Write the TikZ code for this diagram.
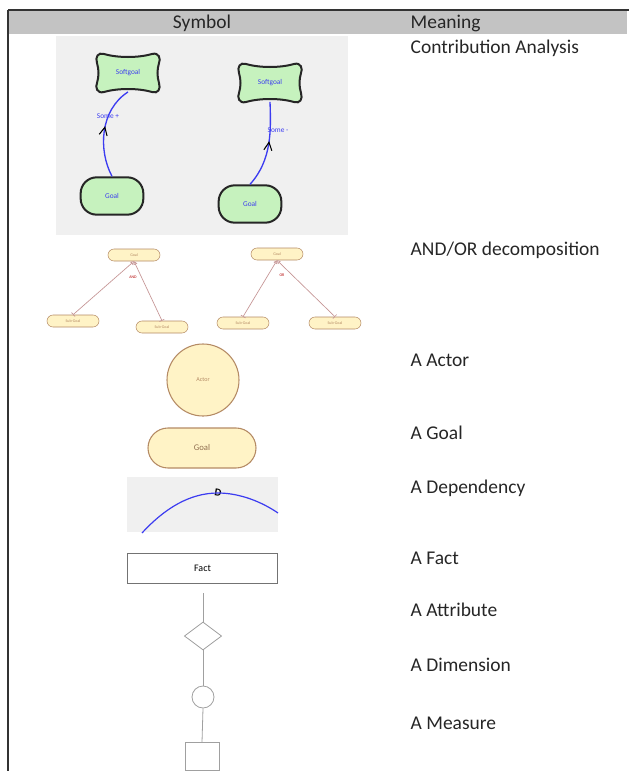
\documentclass[tikz,border=0pt]{standalone}
\usepackage{fontspec}
\setmainfont{Carlito}
\usetikzlibrary{shapes.geometric}
\usetikzlibrary{decorations.markings}
\usetikzlibrary{arrows.meta}
\definecolor{headgray}{HTML}{C3C3C3}
\definecolor{panelgray}{HTML}{F0F0F0}
\definecolor{sgreen}{HTML}{C6F2BE}
\definecolor{cblue}{HTML}{3C3CF0}
\definecolor{pyellow}{HTML}{FFF3C6}
\definecolor{pbrown}{HTML}{B48A64}
\definecolor{rosy}{HTML}{C49494}
\definecolor{lgray}{HTML}{A0A0A0}

\begin{document}
\begin{tikzpicture}[x=0.75pt, y=-0.75pt,
  sgoal/.style={minimum width=46pt, minimum height=28pt, inner sep=0pt, text=cblue, font=\fontsize{5.5}{6}\selectfont},
  sgline/.style={draw=black!85, line width=1.5pt, fill=sgreen},
  ggoal/.style={draw=black!85, line width=1.5pt, fill=sgreen, rounded corners=12pt, minimum width=47pt, minimum height=28pt, inner sep=0pt, text=cblue, font=\fontsize{5.5}{6}\selectfont},
  contrib/.style={cblue, line width=1pt, postaction={decorate}, decoration={markings, mark=at position .55 with {\arrow[black, line width=.8pt]{Straight Barb[length=6pt, width=6pt]}}}},
  sblabel/.style={text=cblue, font=\fontsize{5.5}{6}\selectfont, inner sep=0pt},
  ygoal/.style={draw=pbrown, fill=pyellow, rounded corners=4.5pt, minimum width=39pt, minimum height=9pt, inner sep=0pt, text=pbrown, font=\fontsize{3}{3}\selectfont},
  decomp/.style={rosy, line width=.5pt, {Bar[width=4pt]}-{Triangle[open, length=2.5pt, width=3pt]}},
  dlabel/.style={text=red!70!black, font=\fontsize{3}{3}\selectfont, inner sep=0pt},
  meaning/.style={anchor=west, font=\fontsize{14.6}{16}\selectfont, text=black!85},
  graybox/.style={draw=lgray, line width=.6pt, fill=white, inner sep=0pt}
]
\useasboundingbox (0,0) rectangle (629,771);

% table head
\fill[headgray] (8,10) rectangle (627,34);
\draw[black!80, line width=1.2pt] (8,10) -- (629,10);
\draw[black!80, line width=1.2pt] (8,10) -- (8,771);
\node[font=\fontsize{14.6}{16}\selectfont, text=black!85] (hsym) at (202,23) {Symbol};
\node[meaning] (hmean) at (406,23) {Meaning};

% contribution analysis
\fill[panelgray] (56,36) rectangle (348,235);
\node[sgoal] (sg1) at (128,73) {};
\node[sgoal] (sg2) at (270,83) {};
\foreach \s in {sg1, sg2}
  \draw[sgline, shift={(\s.center)}] (-24,-19) .. controls (-10,-15) and (10,-15) .. (24,-19)
    .. controls (31,-21) and (33,-14) .. (31,-10) .. controls (29,-3) and (29,3) .. (31,10)
    .. controls (33,16) and (30,21) .. (24,19) .. controls (10,15) and (-10,15) .. (-24,19)
    .. controls (-31,21) and (-33,14) .. (-31,10) .. controls (-29,3) and (-29,-3) .. (-31,-10)
    .. controls (-33,-16) and (-30,-21) .. (-24,-19) -- cycle;
\node[sgoal] at (sg1) {Softgoal};
\node[sgoal] at (sg2) {Softgoal};
\node[ggoal] (g1) at (112,196) {Goal};
\node[ggoal] (g2) at (250,204) {Goal};
\draw[contrib] (g1.north) .. controls (98,150) and (100,110) .. (sg1.south);
\draw[contrib] (g2.north) .. controls (272,160) and (271,130) .. (sg2.south);
\node[sblabel] (l1) at (108,116) {Some +};
\node[sblabel] (l2) at (278,130) {Some -};

% and/or decomposition
\node[ygoal] (ag) at (134,255) {Goal};
\node[ygoal] (as1) at (73,321) {Sub-Goal};
\node[ygoal] (as2) at (162,327) {Sub-Goal};
\node[ygoal] (og) at (277,254) {Goal};
\node[ygoal] (os1) at (243,323) {Sub-Goal};
\node[ygoal] (os2) at (335,323) {Sub-Goal};
\draw[decomp] (as1.north) -- (ag.south);
\draw[decomp] (as2.north) -- (ag.south);
\draw[decomp] (os1.north) -- (og.south);
\draw[decomp] (os2.north) -- (og.south);
\node[dlabel] at (133,277) {AND};
\node[dlabel] at (282,275) {OR};

% actor and goal
\node[circle, draw=pbrown, line width=.8pt, fill=pyellow, minimum size=54pt, text=pbrown, font=\fontsize{4.5}{5}\selectfont] (actor) at (203,380) {Actor};
\node[draw=pbrown, line width=.8pt, fill=pyellow, rounded corners=15pt, minimum width=81pt, minimum height=30pt, text=pbrown!80!black, font=\fontsize{6.5}{7}\selectfont] (goal) at (202,448) {Goal};

% dependency
\fill[panelgray] (127,477) rectangle (278,532);
\coordinate (d1) at (142,533);
\coordinate (d2) at (278,513);
\node[font=\fontsize{8}{8}\selectfont\bfseries, inner sep=0pt, rotate=-10] (dm) at (218,493) {D};
\draw[cblue, line width=.9pt] (d1) .. controls (165,508) and (190,493) .. (dm.center)
  .. controls (240,493) and (262,502) .. (d2);

% fact, attribute, dimension, measure
\node[graybox, draw=black!55, minimum width=113pt, minimum height=22.5pt, font=\fontsize{7.5}{8}\selectfont] (fact) at (202.5,568) {Fact};
\coordinate (atop) at (203,593);
\node[graybox, diamond, minimum width=28pt, minimum height=21pt] (attr) at (203,636) {};
\node[graybox, circle, minimum size=16.5pt] (dim) at (203,697) {};
\node[graybox, minimum width=25.5pt, minimum height=20.5pt] (meas) at (202,756.5) {};
\draw[lgray, line width=.6pt] (atop) -- (attr.north);
\draw[lgray, line width=.6pt] (attr.south) -- (dim.north);
\draw[lgray, line width=.6pt] (dim.south) -- (meas.north);

% meanings
\node[meaning] (m1) at (406,48) {Contribution Analysis};
\node[meaning] (m2) at (406,250) {AND/OR decomposition};
\node[meaning] (m3) at (406,360) {A Actor};
\node[meaning] (m4) at (406,433) {A Goal};
\node[meaning] (m5) at (406,488) {A Dependency};
\node[meaning] (m6) at (406,558) {A Fact};
\node[meaning] (m7) at (406,610) {A Attribute};
\node[meaning] (m8) at (406,665) {A Dimension};
\node[meaning] (m9) at (406,723) {A Measure};
\end{tikzpicture}
\end{document}
